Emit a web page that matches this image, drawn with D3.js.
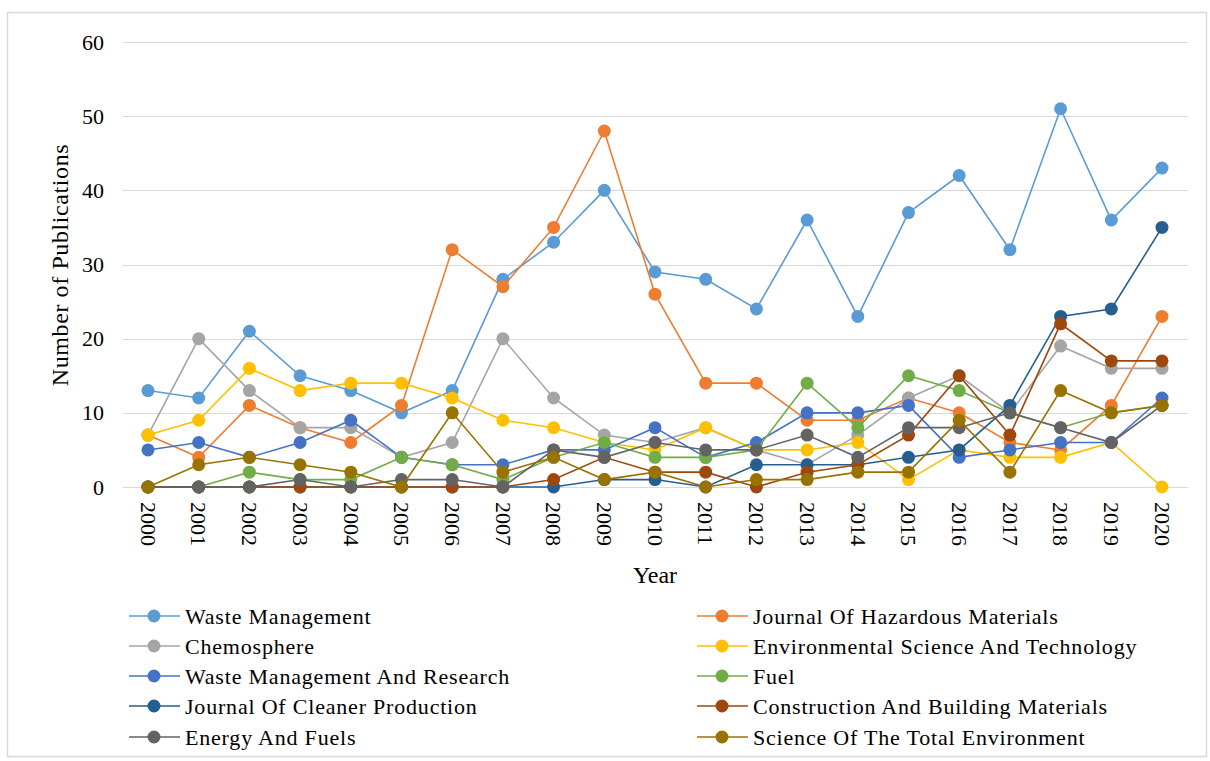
<!DOCTYPE html>
<html>
<head>
<meta charset="utf-8">
<script src="https://cdn.jsdelivr.net/npm/d3@7"></script>
<style>
  body { margin: 0; background: #fff; }
  text { font-family: "Liberation Serif", "Times New Roman", serif; fill: #000; }
</style>
</head>
<body>
<div class="chartContainer"></div>
<script>
// DATA
var years = ['2000','2001','2002','2003','2004','2005','2006','2007','2008','2009','2010',
  '2011','2012','2013','2014','2015','2016','2017','2018','2019','2020']
var yTicks = [0, 10, 20, 30, 40, 50, 60]

var seriesNames = [
  'Waste Management',
  'Journal Of Hazardous Materials',
  'Chemosphere',
  'Environmental Science And Technology',
  'Waste Management And Research',
  'Fuel',
  'Journal Of Cleaner Production',
  'Construction And Building Materials',
  'Energy And Fuels',
  'Science Of The Total Environment'
]
var seriesColors = ['#5B9BD5', '#ED7D31', '#A5A5A5', '#FFC000', '#4472C4',
  '#70AD47', '#255E91', '#9E480E', '#636363', '#997300']

var wasteManagement = [13,12,21,15,13,10,13,28,33,40,29,28,24,36,23,37,42,32,51,36,43]
var hazardousMaterials = [7,4,11,8,6,11,32,27,35,48,26,14,14,9,9,12,10,6,5,11,23]
var chemosphere = [7,20,13,8,8,4,6,20,12,7,6,8,5,3,7,12,15,10,19,16,16]
var envSciTech = [7,9,16,13,14,14,12,9,8,6,5,8,5,5,6,1,5,4,4,6,0]
var wasteMgmtResearch = [5,6,4,6,9,4,3,3,5,5,8,4,6,10,10,11,4,5,6,6,12]
var fuel = [0,0,2,1,1,4,3,1,4,6,4,4,5,14,8,15,13,10,8,10,11]
var cleanerProduction = [0,0,0,0,0,0,0,0,0,1,1,0,3,3,3,4,5,11,23,24,35]
var constructionMaterials = [0,0,0,0,0,0,0,0,1,4,2,2,0,2,3,7,15,7,22,17,17]
var energyFuels = [0,0,0,1,0,1,1,0,5,4,6,5,5,7,4,8,8,10,8,6,11]
var totalEnvironment = [0,3,4,3,2,0,10,2,4,1,2,0,1,1,2,2,9,2,13,10,11]

var seriesValues = [wasteManagement, hazardousMaterials, chemosphere, envSciTech,
  wasteMgmtResearch, fuel, cleanerProduction, constructionMaterials, energyFuels, totalEnvironment]

// SIZING
var width = 1210
var height = 761

var svg = d3.select('div.chartContainer')
  .append('svg')
  .attr('width', width)
  .attr('height', height)

// OUTER FRAME
svg.append('rect')
  .attr('x', 7.5)
  .attr('y', 12.5)
  .attr('width', 1199)
  .attr('height', 744)
  .attr('fill', '#fff')
  .attr('stroke', '#d9d9d9')
  .attr('stroke-width', 1.5)

// SCALES
var x = d3.scalePoint()
  .domain(years)
  .range([148, 1162])

var y = d3.scaleLinear()
  .domain([0, 60])
  .range([487, 42])

// GRIDLINES
svg.append('g')
  .selectAll('line')
  .data(yTicks)
  .enter()
  .append('line')
  .attr('x1', 123)
  .attr('x2', 1188)
  .attr('y1', function(d) { return Math.round(y(d)) + 0.5 })
  .attr('y2', function(d) { return Math.round(y(d)) + 0.5 })
  .attr('stroke', '#d9d9d9')
  .attr('stroke-width', 1.2)

// Y-AXIS
var yAxis = svg.append('g')
  .attr('transform', 'translate(110,0)')
  .call(d3.axisLeft(y).tickValues(yTicks).tickSize(0).tickPadding(6))
yAxis.select('.domain').remove()
yAxis.selectAll('text')
  .style('font-family', '"Liberation Serif", serif')
  .style('font-size', '22px')
  .attr('fill', '#000')

// X-AXIS
var xAxis = svg.append('g')
  .attr('transform', 'translate(0,' + y(0) + ')')
  .call(d3.axisBottom(x).tickSize(0))
xAxis.select('.domain').remove()
xAxis.selectAll('text')
  .style('font-family', '"Liberation Serif", serif')
  .style('font-size', '22px')
  .attr('fill', '#000')
  .attr('transform', 'rotate(90)')
  .attr('x', 15)
  .attr('y', 0)
  .attr('dy', '0.35em')
  .style('text-anchor', 'start')

// AXIS TITLES
svg.append('text')
  .attr('transform', 'translate(68,265) rotate(-90)')
  .style('text-anchor', 'middle')
  .style('font-size', '24px')
  .style('letter-spacing', '0.6px')
  .text('Number of Publications')

svg.append('text')
  .attr('x', 655)
  .attr('y', 583)
  .style('text-anchor', 'middle')
  .style('font-size', '24px')
  .text('Year')

// LINES + MARKERS
var valueline = d3.line()
  .x(function(d, i) { return x(years[i]) })
  .y(function(d) { return y(d) })

seriesValues.forEach(function(vals, s) {
  var g = svg.append('g')
  g.append('path')
    .datum(vals)
    .attr('d', valueline)
    .attr('fill', 'none')
    .attr('stroke', seriesColors[s])
    .attr('stroke-width', 1.6)
  g.selectAll('circle')
    .data(vals)
    .enter()
    .append('circle')
    .attr('cx', function(d, i) { return x(years[i]) })
    .attr('cy', function(d) { return y(d) })
    .attr('r', 6.5)
    .attr('fill', seriesColors[s])
})

// LEGEND
var legendX = [129, 697]
var legendRowY = [616, 646, 676, 706, 737]
var legend = svg.append('g')
  .selectAll('g')
  .data(seriesNames)
  .enter()
  .append('g')
  .attr('transform', function(d, i) {
    return 'translate(' + legendX[i % 2] + ',' + legendRowY[Math.floor(i / 2)] + ')'
  })

legend.append('line')
  .attr('x1', 0)
  .attr('x2', 51)
  .attr('stroke', function(d, i) { return seriesColors[i] })
  .attr('stroke-width', 1.6)

legend.append('circle')
  .attr('cx', 25)
  .attr('r', 6.5)
  .attr('fill', function(d, i) { return seriesColors[i] })

legend.append('text')
  .attr('x', 56)
  .attr('dy', '0.35em')
  .style('font-size', '22px')
  .style('letter-spacing', '0.8px')
  .text(function(d) { return d })
</script>
</body>
</html>
